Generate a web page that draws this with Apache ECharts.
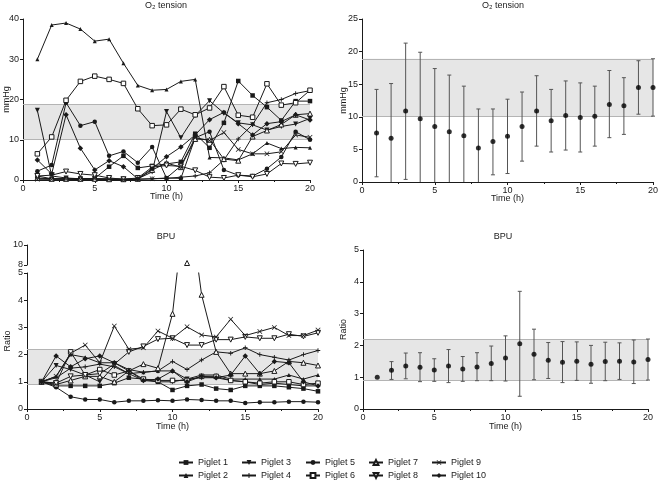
<!DOCTYPE html>
<html><head><meta charset="utf-8">
<script src="https://cdn.jsdelivr.net/npm/echarts@6/dist/echarts.min.js"></script>
<style>html,body{margin:0;padding:0;background:#fff}#c{width:658px;height:482px}</style>
</head><body><div id="c"></div>
<script>
// ---------------- data ----------------
const time = [1,2,3,4,5,6,7,8,9,10,11,12,13,14,15,16,17,18,19,20];
const piglets = ['Piglet 1','Piglet 2','Piglet 3','Piglet 4','Piglet 5','Piglet 6','Piglet 7','Piglet 8','Piglet 9','Piglet 10'];

// O2 tension (mmHg), individual piglets
const o2Piglet1  = [1.0,0.3,0.3,0.3,0.4,3.3,6.0,3.0,3.5,4.0,4.5,11.5,8.0,14.2,24.6,21.0,18.1,14.8,19.6,19.6];
const o2Piglet2  = [30,38.5,39,37.5,34.5,35,29,23.5,22.3,22.5,24.5,25,5.6,5.5,5.0,6.5,9.2,7.8,8.1,8.0];
const o2Piglet3  = [17.3,1.0,0.5,0.3,0.3,0.2,0.1,0.3,2.0,17.0,10.5,16.0,19.7,16.6,14.2,13.7,12.4,13.3,13.9,15.3];
const o2Piglet4  = [0.3,0.2,0.2,0.1,0.1,0.1,0.1,0.2,0.3,0.4,0.7,1.0,1.8,5.0,10.2,13.8,19.2,20.0,21.5,22.2];
const o2Piglet5  = [2.2,3.7,19.2,13.5,14.5,6.0,7.1,4.3,8.2,0.5,0.4,10.5,12.0,2.5,1.2,1.0,2.8,5.7,12.0,10.0];
const o2Piglet6  = [6.5,10.7,19.8,24.5,25.8,25,24,17.7,13.5,13.7,17.6,16.2,17.9,23.2,16.1,15.6,23.9,18.6,19.2,22.3];
const o2Piglet7  = [0.5,0.3,0.3,0.3,0.3,0.2,0.2,0.3,2.5,4.2,3.2,10.2,10.0,5.2,4.8,10.8,12.3,13.8,16.2,16.5];
const o2Piglet8  = [1.0,1.2,2.1,1.5,1.2,0.5,0.2,0.5,3.2,3.6,3.4,2.4,0.7,0.5,1.2,0.8,1.5,4.1,4.0,4.3];
const o2Piglet9  = [0.2,0.2,0.2,0.2,0.3,0.3,0.2,0.2,0.3,0.5,3.5,10.5,9.8,11.8,7.6,6.5,6.5,7.0,11.2,10.6];
const o2Piglet10 = [5.0,1.5,16.2,7.9,2.5,4.8,3.3,0.3,2.8,5.8,8.2,11.2,15.0,16.8,14.0,11.2,14.0,14.5,16.2,14.9];

// O2 tension summary (mean, lower / upper error bar end; 0 = bar runs to the axis)
const o2Mean = [7.5,6.7,10.9,9.7,8.5,7.7,7.1,5.2,6.2,7.0,8.5,10.9,9.4,10.2,9.9,10.1,11.9,11.7,14.5,14.5];
const o2Low  = [0.8,0,0.4,0,0,0,0,0,1.1,1.3,3.2,5.5,4.6,4.9,4.6,5.5,6.8,7.3,10.4,10.1];
const o2High = [14.2,15.1,21.3,19.9,17.4,16.4,14.7,11.2,11.2,12.7,13.8,16.3,14.2,15.5,15.2,14.7,17.1,16.0,18.6,18.9];
const o2Band = [10.1, 18.9];

// BPU (ratio), individual piglets
const bpuPiglet1  = [1,0.85,0.85,0.85,0.85,0.95,1.15,1.1,1.0,0.7,0.85,0.9,0.75,0.7,0.85,0.85,0.85,0.8,0.75,0.65];
const bpuPiglet2  = [1,1.2,2.0,1.9,1.7,1.7,1.45,1.35,1.4,1.4,1.1,1.25,1.25,1.1,1.1,1.1,1.1,1.25,1.1,1.25];
const bpuPiglet3  = [1,1.6,1.45,1.25,1.0,1.6,1.3,1.05,1.0,1.0,1.1,1.15,1.15,1.05,1.0,0.9,0.95,0.9,0.85,0.85];
const bpuPiglet4  = [1,1.15,1.5,1.55,1.65,1.55,1.3,1.35,1.4,1.75,1.45,1.8,2.1,2.05,2.25,2.0,1.9,1.8,2.0,2.15];
const bpuPiglet5  = [1,0.8,0.45,0.35,0.35,0.25,0.3,0.3,0.32,0.3,0.35,0.33,0.3,0.3,0.22,0.25,0.25,0.27,0.27,0.25];
const bpuPiglet6  = [1,0.95,2.1,1.25,1.45,1.25,1.4,1.1,1.05,1.05,1.05,1.2,1.2,1.05,1.0,0.95,1.0,1.0,0.9,0.95];
const bpuPiglet7  = [1,0.9,1.05,1.2,1.2,1.0,1.4,1.65,1.5,3.5,8.2,4.2,2.1,1.3,1.3,1.3,1.4,1.75,1.7,1.6];
const bpuPiglet8  = [1,0.95,1.2,1.25,1.3,1.65,2.1,2.3,2.57,2.6,2.35,2.35,2.55,2.55,2.65,2.6,2.6,2.75,2.67,2.8];
const bpuPiglet9  = [1,1.2,2.05,2.35,1.7,3.05,2.2,2.25,2.87,2.6,3.02,2.72,2.65,3.3,2.7,2.85,3.0,2.7,2.7,2.9];
const bpuPiglet10 = [1,1.95,1.55,1.85,1.95,1.7,1.4,1.05,1.1,1.4,1.0,1.2,1.15,1.25,1.95,1.3,1.75,1.7,1.0,0.85];

// BPU summary
const bpuMean = [1.0,1.22,1.35,1.31,1.23,1.35,1.26,1.32,1.43,1.6,2.05,1.72,1.53,1.47,1.5,1.41,1.49,1.5,1.48,1.56];
const bpuLow  = [1.0,0.93,0.95,0.86,0.87,0.83,0.87,0.89,0.89,0.88,0.4,0.92,0.96,0.83,0.9,0.81,0.89,0.93,0.8,0.91];
const bpuHigh = [1.0,1.49,1.76,1.77,1.58,1.87,1.65,1.77,1.98,2.3,3.7,2.51,2.09,2.12,2.11,2.0,2.1,2.08,2.17,2.2];
const bpuBand = [0.9, 2.2];

const o2Sets  = [o2Piglet1,o2Piglet2,o2Piglet3,o2Piglet4,o2Piglet5,o2Piglet6,o2Piglet7,o2Piglet8,o2Piglet9,o2Piglet10];
const bpuSets = [bpuPiglet1,bpuPiglet2,bpuPiglet3,bpuPiglet4,bpuPiglet5,bpuPiglet6,bpuPiglet7,bpuPiglet8,bpuPiglet9,bpuPiglet10];

// ---------------- styles ----------------
const FONT = 'Liberation Sans, Arial, sans-serif';
const INK = '#1a1a1a';
const PLUS = 'path://M4,0L6,0L6,4L10,4L10,6L6,6L6,10L4,10L4,6L0,6L0,4L4,4Z';
const CROSS = 'path://M0,1L1,0L5,4L9,0L10,1L6,5L10,9L9,10L5,6L1,10L0,9L4,5Z';
const markers = [
  {symbol:'rect', size:4.5, rotate:0, open:false},
  {symbol:'triangle', size:4, rotate:0, open:false},
  {symbol:'triangle', size:5, rotate:180, open:false},
  {symbol:PLUS, size:4.5, rotate:0, open:false},
  {symbol:'circle', size:4.5, rotate:0, open:false},
  {symbol:'rect', size:4.5, rotate:0, open:true},
  {symbol:'triangle', size:5, rotate:0, open:true},
  {symbol:'triangle', size:5, rotate:180, open:true},
  {symbol:CROSS, size:5, rotate:0, open:false},
  {symbol:'diamond', size:5.5, rotate:0, open:false}
];

const axisCommon = {
  axisLine:{show:true, lineStyle:{color:INK, width:1}},
  axisTick:{show:true, length:3, lineStyle:{color:INK, width:1}},
  axisLabel:{fontSize:9, color:INK, fontFamily:FONT, margin:4},
  splitLine:{show:false},
  nameMoveOverlap:false,
  nameTextStyle:{fontSize:9, color:INK, fontFamily:FONT}
};
function xAx(gi, show, gap) {
  return Object.assign({}, axisCommon, {
    type:'value', gridIndex:gi, min:0, max:20, interval:5, show:show,
    name: show ? 'Time (h)' : '', nameLocation:'middle', nameGap:gap,
    minorTick:{show:true, splitNumber:2, length:2, lineStyle:{color:INK}}
  });
}
function yAx(gi, min, max, interval, name, gap) {
  return Object.assign({}, axisCommon, {
    type:'value', gridIndex:gi, min:min, max:max, interval:interval,
    name:name, nameLocation:'middle', nameGap:gap
  });
}

function bandMarks(band) {
  return {
    markArea:{silent:true, z:0, itemStyle:{color:'#e6e6e6', borderWidth:0},
      data:[[{coord:[0, band[0]]},{coord:[20, band[1]]}]]},
    markLine:{silent:true, symbol:['none','none'], z:1, label:{show:false},
      lineStyle:{color:'#b4b4b4', type:'solid', width:1},
      data:[{yAxis:band[0]},{yAxis:band[1]}]}
  };
}

function pigletSeries(values, i, gi, extra) {
  const m = markers[i];
  return Object.assign({
    type:'line', name:piglets[i], xAxisIndex:gi, yAxisIndex:gi,
    data: time.map((t,k)=>[t, values[k]]),
    symbol:m.symbol, symbolSize:m.size, symbolRotate:m.rotate, showSymbol:true,
    lineStyle:{color:INK, width:1},
    itemStyle: m.open ? {color:'#ffffff', borderColor:INK, borderWidth:1}
                      : {color:INK, borderColor:INK, borderWidth:0},
    emphasis:{disabled:true}, clip:true, z:3, animation:false
  }, extra || {});
}

function errSeries(mean, low, high, gi) {
  return {
    type:'custom', xAxisIndex:gi, yAxisIndex:gi, silent:true, z:3, animation:false,
    data: time.map((t,k)=>[t, low[k], high[k]]),
    encode:{x:0, y:[1,2]},
    renderItem:function(params, api){
      const x = api.value(0), lo = api.value(1), hi = api.value(2);
      if (hi === lo) return null;
      const top = api.coord([x, hi]);
      const bot = api.coord([x, lo]);
      const st = {stroke:'#555', lineWidth:1};
      const ch = [
        {type:'line', shape:{x1:top[0], y1:top[1], x2:bot[0], y2:bot[1]}, style:st},
        {type:'line', shape:{x1:top[0]-2, y1:top[1], x2:top[0]+2, y2:top[1]}, style:st}
      ];
      if (lo > 0) ch.push({type:'line', shape:{x1:bot[0]-2, y1:bot[1], x2:bot[0]+2, y2:bot[1]}, style:st});
      return {type:'group', children:ch};
    }
  };
}

function meanSeries(mean, gi, band) {
  return Object.assign({
    type:'scatter', xAxisIndex:gi, yAxisIndex:gi, symbol:'circle', symbolSize:5,
    itemStyle:{color:'#000'}, z:4, silent:true, animation:false,
    data: time.map((t,k)=>[t, mean[k]])
  }, bandMarks(band));
}

const series = [];
o2Sets.forEach((v,i)=>series.push(pigletSeries(v, i, 0, i===0 ? bandMarks(o2Band) : null)));
bpuSets.forEach((v,i)=>series.push(pigletSeries(v, i, 2, i===0 ? bandMarks(bpuBand) : null)));
series.push(pigletSeries(bpuPiglet7, 6, 3));
series.push(errSeries(o2Mean, o2Low, o2High, 1));
series.push(meanSeries(o2Mean, 1, o2Band));
series.push(errSeries(bpuMean, bpuLow, bpuHigh, 4));
series.push(meanSeries(bpuMean, 4, bpuBand));

// one legend per entry: 5 columns x 2 rows
const legendLefts = [178, 241, 305, 368, 431];
const legendTops = [458, 471];
const legends = piglets.map((p,i)=>({
  orient:'horizontal', left:legendLefts[Math.floor(i/2)], top:legendTops[i%2],
  itemWidth:14, itemHeight:6, padding:0, selectedMode:false, data:[p],
  textStyle:{fontSize:9, color:INK, fontFamily:FONT}
}));

const titleStyle = {fontSize:9, fill:INK, fontFamily:FONT, textAlign:'center', textVerticalAlign:'middle'};
const option = {
  backgroundColor:'#fff',
  animation:false,
  grid:[
    {left:23, top:19, width:287, height:161, outerBoundsMode:'none'},
    {left:362, top:19, width:291, height:163, outerBoundsMode:'none'},
    {left:27, top:273, width:291, height:136, outerBoundsMode:'none'},
    {left:27, top:245, width:291, height:20, outerBoundsMode:'none'},
    {left:363, top:250, width:285, height:159, outerBoundsMode:'none'}
  ],
  xAxis:[xAx(0,true,12), xAx(1,true,12), xAx(2,true,13), xAx(3,false,0), xAx(4,true,13)],
  yAxis:[
    yAx(0,0,40,10,'mmHg',12),
    yAx(1,0,25,5,'mmHg',14),
    yAx(2,0,5,1,'Ratio',15),
    yAx(3,8,10,2,'',0),
    yAx(4,0,5,1,'Ratio',15)
  ],
  legend:legends,
  graphic:[
    {type:'text', x:166, y:6, style:Object.assign({text:'O₂ tension'}, titleStyle)},
    {type:'text', x:503, y:6, style:Object.assign({text:'O₂ tension'}, titleStyle)},
    {type:'text', x:166, y:237, style:Object.assign({text:'BPU'}, titleStyle)},
    {type:'text', x:503, y:237, style:Object.assign({text:'BPU'}, titleStyle)}
  ],
  series:series
};
const chart = echarts.init(document.getElementById('c'), null, {renderer:'canvas'});
chart.setOption(option);
</script>
</body></html>
